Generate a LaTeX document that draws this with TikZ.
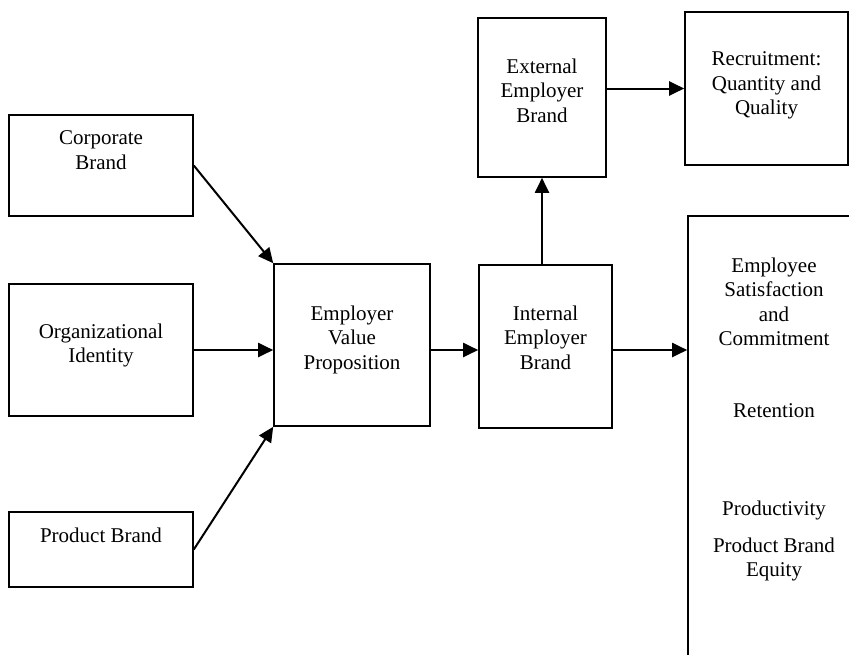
\documentclass[tikz,border=0pt]{standalone}
\usepackage{fontspec}
\setmainfont{Liberation Serif}
\usetikzlibrary{arrows.meta,positioning,calc}

\begin{document}
\begin{tikzpicture}[x=1pt,y=-1pt,>={Triangle[length=15pt,width=14pt]},
box/.style={rectangle,draw,line width=1.6pt,inner sep=0pt},
txt/.style={anchor=north,align=center,inner sep=0pt,font=\fontsize{21}{24.5}\selectfont},
arr/.style={->,line width=2pt}]
\useasboundingbox (0,0) rectangle (849,654);
\clip (0,0) rectangle (849,654);
% boxes
\node[box,minimum width=184pt,minimum height=101pt] (corp) at (101,165.5) {};
\node[box,minimum width=184pt,minimum height=132pt] (orgid) at (101,350) {};
\node[box,minimum width=184pt,minimum height=75pt] (prodb) at (101,549.5) {};
\node[box,minimum width=156pt,minimum height=162pt] (evp) at (352,345) {};
\node[box,minimum width=133pt,minimum height=163pt] (ieb) at (545.5,346.5) {};
\node[box,minimum width=128pt,minimum height=159pt] (eeb) at (542,97.5) {};
\node[box,minimum width=163pt,minimum height=153pt] (recr) at (766.5,88.5) {};
\node[box,minimum width=172pt,minimum height=474pt] (outc) at (774,453) {};
% texts
\node[txt] (corptxt) at (101,130.7) {Corporate\\Brand};
\node[txt] (orgtxt) at (101,323.7) {Organizational\\Identity};
\node[txt] (prodtxt) at (101,527.7) {Product Brand};
\node[txt] (evptxt) at (352,305.7) {Employer\\Value\\Proposition};
\node[txt] (iebtxt) at (545.5,305.7) {Internal\\Employer\\Brand};
\node[txt] (eebtxt) at (542,58.7) {External\\Employer\\Brand};
\node[txt] (recrtxt) at (766.5,51.7) {Recruitment:\\Quantity and\\Quality};
\node[txt] (sat) at (774,257.7) {Employee\\Satisfaction\\and\\Commitment};
\node[txt] (ret) at (774,403.7) {Retention};
\node[txt] (prdv) at (774,500.7) {Productivity};
\node[txt] (equ) at (774,537.7) {Product Brand\\Equity};
% arrows
\draw[arr] (corp.east) -- (evp.north west);
\draw[arr] (prodb.east) -- (evp.south west);
\foreach \u/\v in {orgid/evp,evp/ieb,ieb/outc}
  \draw[arr] (\u.east |- orgid.east) -- (\v.west |- orgid.east);
\draw[arr] (eeb.south |- ieb.north) -- (eeb.south);
\draw[arr] (eeb.east |- recr.west) -- (recr.west);
\end{tikzpicture}
\end{document}
